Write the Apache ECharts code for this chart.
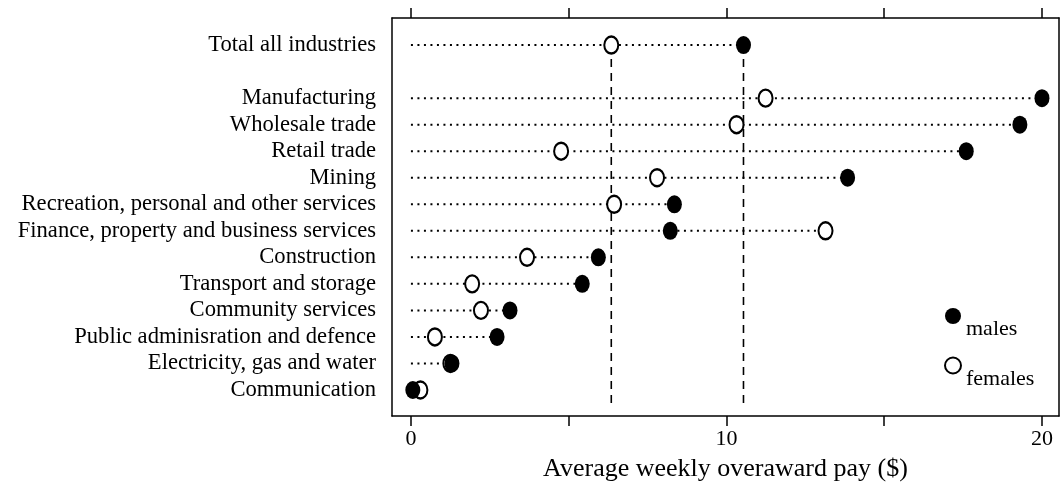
<!DOCTYPE html>
<html>
<head>
<meta charset="utf-8">
<script src="https://cdn.jsdelivr.net/npm/echarts@6/dist/echarts.min.js"></script>
<style>
  html, body { margin: 0; padding: 0; background: #fff; }
  #chart { width: 1061px; height: 488px; }
</style>
</head>
<body>
<div id="chart"></div>
<script>
// rows listed top to bottom; '' is the gap row under the total
const industries = [
  'Total all industries',
  '',
  'Manufacturing',
  'Wholesale trade',
  'Retail trade',
  'Mining',
  'Recreation, personal and other services',
  'Finance, property and business services',
  'Construction',
  'Transport and storage',
  'Community services',
  'Public adminisration and defence',
  'Electricity, gas and water',
  'Communication'
];
const males = [10.54, null, 20.0, 19.3, 17.6, 13.84, 8.35, 8.22, 5.94, 5.43, 3.14, 2.73, 1.3, 0.06];
const females = [6.35, null, 11.24, 10.32, 4.76, 7.8, 6.44, 13.14, 3.68, 1.94, 2.22, 0.76, 1.25, 0.3];
const xTicks = [0, 5, 10, 15, 20];
const xLabels = [0, 10, 20];

const FONT = 'Liberation Serif';
const n = industries.length;
const rowY = (i) => n - 1 - i;

const chart = echarts.init(document.getElementById('chart'));

const stems = [];
const malePts = [];
const femalePts = [];
industries.forEach((name, i) => {
  if (!name) return;
  const vals = [males[i], females[i]].filter((v) => v != null);
  stems.push([Math.max(...vals), rowY(i)]);
  if (males[i] != null) malePts.push([males[i], rowY(i)]);
  if (females[i] != null) femalePts.push([females[i], rowY(i)]);
});

const labelIdx = industries.map((name, i) => (name ? rowY(i) : null)).filter((v) => v != null);

const xCommon = {
  type: 'value',
  min: -0.6,
  max: 20.54,
  splitLine: { show: false },
  axisLine: { show: true, onZero: false, lineStyle: { color: '#000', width: 1.5 } },
  axisTick: { show: true, inside: false, length: 10, customValues: xTicks, lineStyle: { color: '#000', width: 1.5 } }
};

const option = {
  backgroundColor: '#fff',
  animation: false,
  grid: { left: 392, right: 2, top: 18, bottom: 72, containLabel: false },
  legend: {
    orient: 'vertical',
    left: 939,
    top: 303,
    itemWidth: 16,
    itemHeight: 17,
    itemGap: 16,
    data: ['males', 'females'],
    formatter: (name) => '{t|' + name + '}',
    textStyle: {
      fontFamily: FONT,
      fontSize: 22,
      color: '#000',
      rich: { t: { fontFamily: FONT, fontSize: 22, color: '#000', padding: [27, 0, 0, 0] } }
    }
  },
  xAxis: [
    Object.assign({}, xCommon, {
      position: 'bottom',
      name: 'Average weekly overaward pay ($)',
      nameLocation: 'middle',
      nameGap: 40,
      nameTextStyle: { fontFamily: FONT, fontSize: 26, color: '#000' },
      axisLabel: {
        customValues: xLabels,
        fontFamily: FONT,
        fontSize: 22,
        color: '#000',
        margin: 12
      }
    }),
    Object.assign({}, xCommon, {
      position: 'top',
      axisLabel: { show: false }
    })
  ],
  yAxis: [
    {
      type: 'value',
      min: -0.98,
      max: 14.02,
      position: 'left',
      splitLine: { show: false },
      axisLine: { show: true, onZero: false, lineStyle: { color: '#000', width: 1.5 } },
      axisTick: { show: false },
      axisLabel: {
        customValues: labelIdx,
        formatter: (v) => industries[n - 1 - Math.round(v)],
        fontFamily: FONT,
        fontSize: 22.6,
        color: '#000',
        margin: 16
      }
    },
    {
      type: 'value',
      min: -0.98,
      max: 14.02,
      position: 'right',
      splitLine: { show: false },
      axisLine: { show: true, onZero: false, lineStyle: { color: '#000', width: 1.5 } },
      axisTick: { show: false },
      axisLabel: { show: false }
    }
  ],
  series: [
    {
      name: 'stems',
      type: 'custom',
      silent: true,
      z: 1,
      data: stems,
      renderItem: (params, api) => {
        const a = api.coord([0, api.value(1)]);
        const b = api.coord([api.value(0), api.value(1)]);
        return {
          type: 'line',
          shape: { x1: a[0], y1: a[1], x2: b[0], y2: b[1] },
          style: { stroke: '#000', lineWidth: 2, lineDash: [2, 4.5] }
        };
      }
    },
    {
      name: 'femaleTotal',
      type: 'line',
      silent: true,
      z: 1,
      symbol: 'none',
      data: [[females[0], rowY(0)], [females[0], -0.6]],
      lineStyle: { color: '#000', width: 1.6, type: [8, 6] }
    },
    {
      name: 'maleTotal',
      type: 'line',
      silent: true,
      z: 1,
      symbol: 'none',
      data: [[males[0], rowY(0)], [males[0], -0.6]],
      lineStyle: { color: '#000', width: 1.6, type: [8, 6] }
    },
    {
      name: 'females',
      type: 'scatter',
      z: 3,
      symbol: 'circle',
      symbolSize: [14, 17],
      data: femalePts,
      itemStyle: { color: '#fff', borderColor: '#000', borderWidth: 2.2, opacity: 1 }
    },
    {
      name: 'males',
      type: 'scatter',
      z: 4,
      symbol: 'circle',
      symbolSize: [15, 18],
      data: malePts,
      itemStyle: { color: '#000', opacity: 1 }
    }
  ]
};

chart.setOption(option);
window.addEventListener('resize', () => chart.resize());
</script>
</body>
</html>
